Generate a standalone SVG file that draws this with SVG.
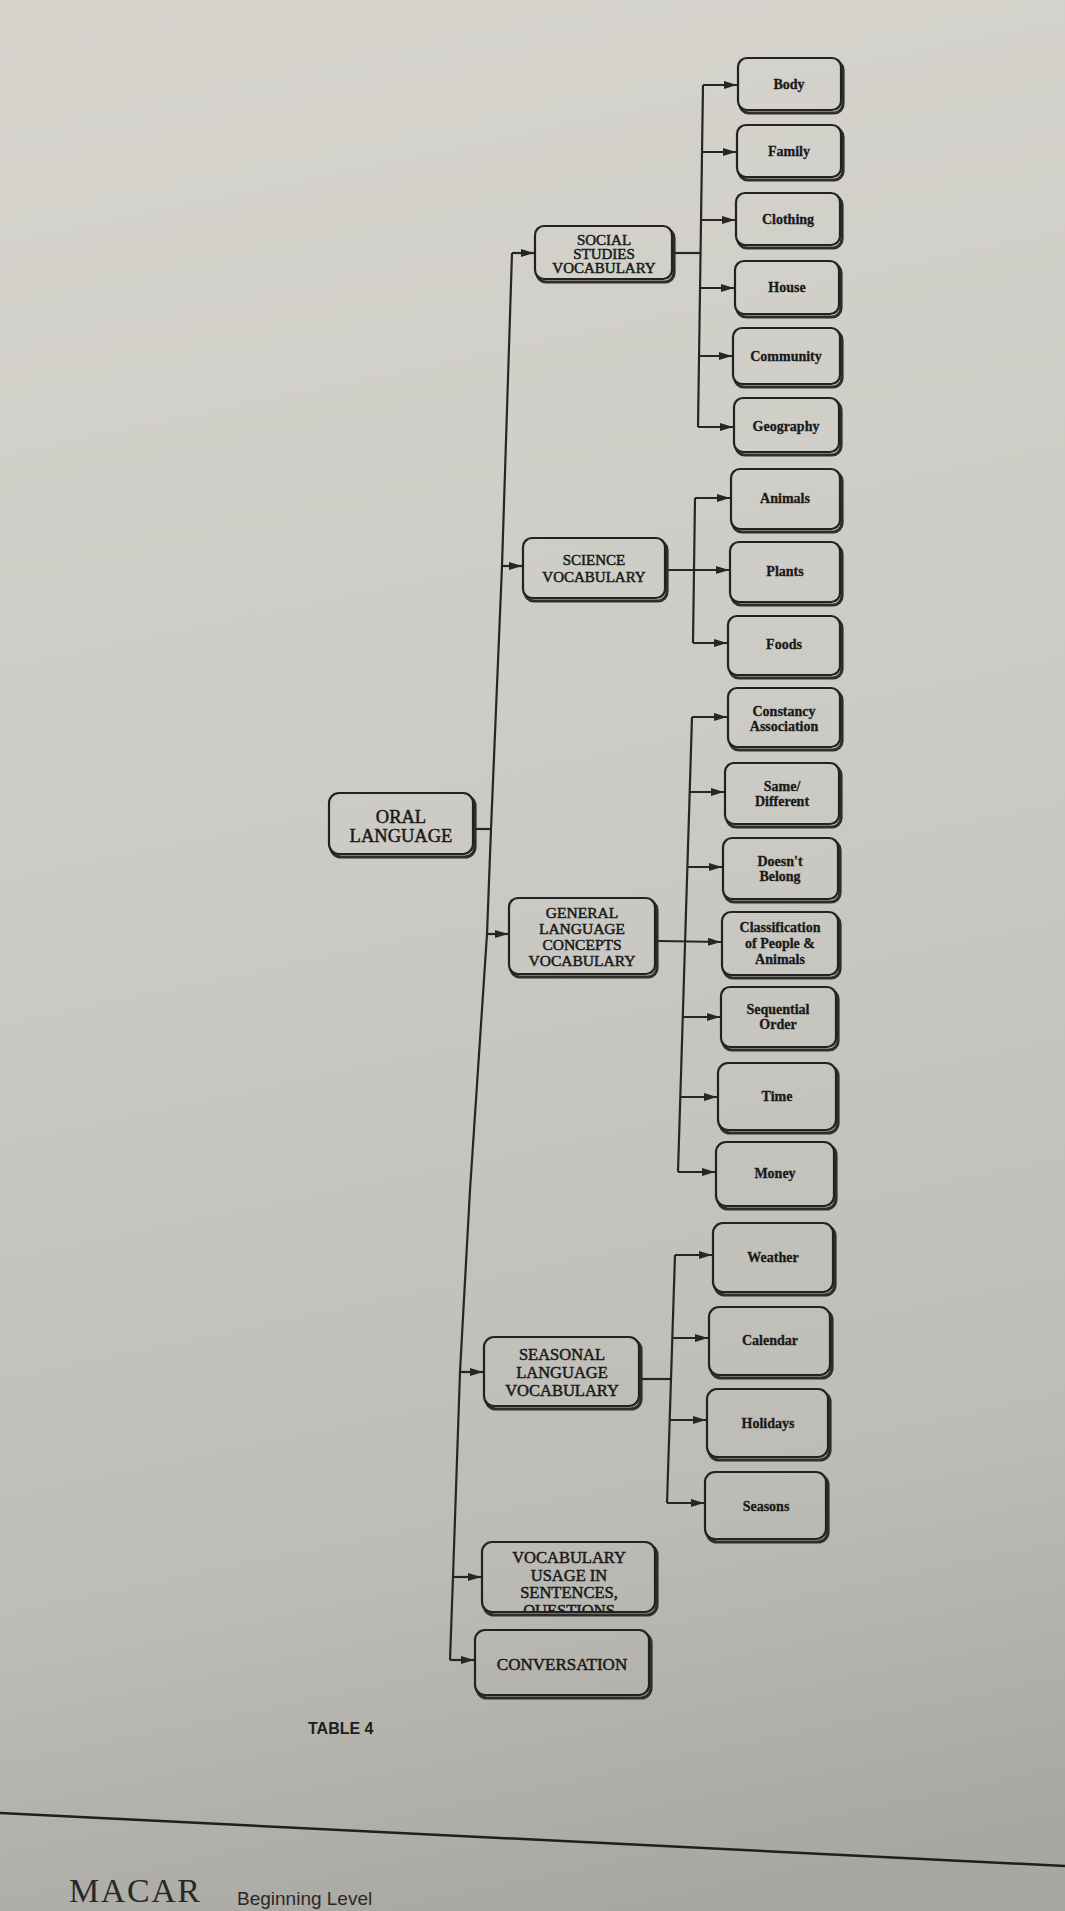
<svg xmlns="http://www.w3.org/2000/svg" width="1065" height="1911" viewBox="0 0 1065 1911">
<defs>
  <linearGradient id="bg" gradientUnits="userSpaceOnUse" x1="200" y1="0" x2="600" y2="1911">
    <stop offset="0" stop-color="#d6d4cd"/>
    <stop offset="0.45" stop-color="#cbcac4"/>
    <stop offset="0.8" stop-color="#bdbcb6"/>
    <stop offset="1" stop-color="#a9a7a2"/>
  </linearGradient>
  <marker id="arr" markerUnits="userSpaceOnUse" markerWidth="14" markerHeight="9" refX="14" refY="4" orient="auto">
    <path d="M0,0 L13,4 L0,8 z" fill="#262626"/>
  </marker>
  <clipPath id="vuclip"><rect x="482" y="1540" width="180" height="72"/></clipPath>
  <style>
    .sh{fill:none;stroke:#2e2e2e;stroke-width:3.2}
    .bx{fill:url(#bg);stroke:#222;stroke-width:2.2}
    .cn{fill:none;stroke:#262626;stroke-width:2.2}
    .ca{fill:none;stroke:#262626;stroke-width:2.2;marker-end:url(#arr)}
    .t1{font-family:"Liberation Serif","Times New Roman",serif;font-size:15px;fill:#1a1a1a;stroke:#1a1a1a;stroke-width:0.5;text-anchor:middle}
    .t2{font-family:"Liberation Serif","Times New Roman",serif;font-size:14px;font-weight:bold;fill:#1a1a1a;stroke:#1a1a1a;stroke-width:0.3;text-anchor:middle}
  </style>
</defs>
<rect x="0" y="0" width="1065" height="1911" fill="url(#bg)"/>

<g id="connectors">
  <polyline class="cn" points="512,253 502,566 491,829 487,934 470,1190 460,1372 453,1577 450,1660"/>
  <line class="cn" x1="475" y1="829" x2="491" y2="829"/>
  <line class="ca" x1="512" y1="253" x2="535" y2="253"/>
  <line class="ca" x1="502" y1="566" x2="523" y2="566"/>
  <line class="ca" x1="487" y1="934" x2="509" y2="934"/>
  <line class="ca" x1="460" y1="1372" x2="484" y2="1372"/>
  <line class="ca" x1="453" y1="1577" x2="482" y2="1577"/>
  <line class="ca" x1="450" y1="1660" x2="475" y2="1660"/>
  <!-- social studies -->
  <line class="cn" x1="703" y1="85" x2="698" y2="427"/>
  <line class="cn" x1="675" y1="253" x2="701" y2="253"/>
  <line class="ca" x1="703" y1="85" x2="738" y2="85"/>
  <line class="ca" x1="702" y1="152" x2="737" y2="152"/>
  <line class="ca" x1="701" y1="220" x2="736" y2="220"/>
  <line class="ca" x1="700" y1="288" x2="735" y2="288"/>
  <line class="ca" x1="699" y1="356" x2="733" y2="356"/>
  <line class="ca" x1="698" y1="427" x2="734" y2="427"/>
  <!-- science -->
  <line class="cn" x1="695" y1="498" x2="693" y2="643"/>
  <line class="ca" x1="668" y1="570" x2="730" y2="570"/>
  <line class="ca" x1="695" y1="498" x2="731" y2="498"/>
  <line class="ca" x1="693" y1="643" x2="728" y2="643"/>
  <!-- general language -->
  <line class="cn" x1="692" y1="717" x2="678" y2="1172"/>
  <line class="ca" x1="658" y1="941" x2="722" y2="942"/>
  <line class="ca" x1="692" y1="717" x2="728" y2="717"/>
  <line class="ca" x1="690" y1="792" x2="725" y2="792"/>
  <line class="ca" x1="687" y1="867" x2="723" y2="867"/>
  <line class="ca" x1="683" y1="1017" x2="721" y2="1017"/>
  <line class="ca" x1="680" y1="1097" x2="718" y2="1097"/>
  <line class="ca" x1="678" y1="1172" x2="716" y2="1172"/>
  <!-- seasonal -->
  <line class="cn" x1="675" y1="1255" x2="667" y2="1503"/>
  <line class="cn" x1="642" y1="1379" x2="671" y2="1379"/>
  <line class="ca" x1="675" y1="1255" x2="713" y2="1255"/>
  <line class="ca" x1="672" y1="1338" x2="709" y2="1338"/>
  <line class="ca" x1="670" y1="1420" x2="707" y2="1420"/>
  <line class="ca" x1="667" y1="1503" x2="705" y2="1503"/>
</g>

<g id="oral">
  <rect class="sh" x="331" y="796" width="144" height="61" rx="10"/>
  <rect class="bx" x="329" y="793" width="144" height="61" rx="10"/>
  <text class="t1" style="font-size:18.5px" x="401" y="823">ORAL</text>
  <text class="t1" style="font-size:18.5px" x="401" y="842">LANGUAGE</text>
</g>

<g id="social-studies">
  <rect class="sh" x="537" y="229" width="137" height="53" rx="9"/>
  <rect class="bx" x="535" y="226" width="137" height="53" rx="9"/>
  <text class="t1" x="604" y="245">SOCIAL</text>
  <text class="t1" x="604" y="259">STUDIES</text>
  <text class="t1" x="604" y="273">VOCABULARY</text>
</g>

<g id="science">
  <rect class="sh" x="525" y="541" width="142" height="60" rx="9"/>
  <rect class="bx" x="523" y="538" width="142" height="60" rx="9"/>
  <text class="t1" x="594" y="565">SCIENCE</text>
  <text class="t1" x="594" y="582">VOCABULARY</text>
</g>

<g id="general-language">
  <rect class="sh" x="511" y="901" width="146" height="76" rx="9"/>
  <rect class="bx" x="509" y="898" width="146" height="76" rx="9"/>
  <text class="t1" style="font-size:15.5px" x="582" y="918">GENERAL</text>
  <text class="t1" style="font-size:15.5px" x="582" y="934">LANGUAGE</text>
  <text class="t1" style="font-size:15.5px" x="582" y="950">CONCEPTS</text>
  <text class="t1" style="font-size:15.5px" x="582" y="966">VOCABULARY</text>
</g>

<g id="seasonal">
  <rect class="sh" x="486" y="1340" width="155" height="69" rx="10"/>
  <rect class="bx" x="484" y="1337" width="155" height="69" rx="10"/>
  <text class="t1" style="font-size:16.5px" x="562" y="1360">SEASONAL</text>
  <text class="t1" style="font-size:16.5px" x="562" y="1378">LANGUAGE</text>
  <text class="t1" style="font-size:16.5px" x="562" y="1396">VOCABULARY</text>
</g>

<g id="vocabulary-usage">
  <rect class="sh" x="484" y="1545" width="173" height="70" rx="10"/>
  <rect class="bx" x="482" y="1542" width="173" height="70" rx="10"/>
  <g clip-path="url(#vuclip)">
    <text class="t1" style="font-size:16.5px" x="569" y="1563">VOCABULARY</text>
    <text class="t1" style="font-size:16.5px" x="569" y="1581">USAGE IN</text>
    <text class="t1" style="font-size:16.5px" x="569" y="1598">SENTENCES,</text>
    <text class="t1" style="font-size:16.5px" x="569" y="1616">QUESTIONS</text>
  </g>
  <path d="M492,1612 L645,1612" stroke="#222" stroke-width="2.2" fill="none"/>
</g>

<g id="conversation">
  <rect class="sh" x="477" y="1633" width="174" height="65" rx="10"/>
  <rect class="bx" x="475" y="1630" width="174" height="65" rx="10"/>
  <text class="t1" style="font-size:17px" x="562" y="1670">CONVERSATION</text>
</g>

<g id="body"><rect class="sh" x="740" y="61" width="103" height="52" rx="9"/><rect class="bx" x="738" y="58" width="103" height="52" rx="9"/><text class="t2" x="789" y="89">Body</text></g>
<g id="family"><rect class="sh" x="739" y="128" width="104" height="52" rx="9"/><rect class="bx" x="737" y="125" width="104" height="52" rx="9"/><text class="t2" x="789" y="156">Family</text></g>
<g id="clothing"><rect class="sh" x="738" y="196" width="104" height="52" rx="9"/><rect class="bx" x="736" y="193" width="104" height="52" rx="9"/><text class="t2" x="788" y="224">Clothing</text></g>
<g id="house"><rect class="sh" x="737" y="264" width="104" height="53" rx="9"/><rect class="bx" x="735" y="261" width="104" height="53" rx="9"/><text class="t2" x="787" y="292">House</text></g>
<g id="community"><rect class="sh" x="735" y="331" width="107" height="56" rx="9"/><rect class="bx" x="733" y="328" width="107" height="56" rx="9"/><text class="t2" x="786" y="361">Community</text></g>
<g id="geography"><rect class="sh" x="736" y="401" width="105" height="54" rx="9"/><rect class="bx" x="734" y="398" width="105" height="54" rx="9"/><text class="t2" x="786" y="431">Geography</text></g>

<g id="animals"><rect class="sh" x="733" y="472" width="109" height="60" rx="9"/><rect class="bx" x="731" y="469" width="109" height="60" rx="9"/><text class="t2" x="785" y="503">Animals</text></g>
<g id="plants"><rect class="sh" x="732" y="545" width="110" height="60" rx="9"/><rect class="bx" x="730" y="542" width="110" height="60" rx="9"/><text class="t2" x="785" y="576">Plants</text></g>
<g id="foods"><rect class="sh" x="730" y="619" width="112" height="59" rx="9"/><rect class="bx" x="728" y="616" width="112" height="59" rx="9"/><text class="t2" x="784" y="649">Foods</text></g>

<g id="constancy"><rect class="sh" x="730" y="691" width="112" height="59" rx="9"/><rect class="bx" x="728" y="688" width="112" height="59" rx="9"/><text class="t2" x="784" y="716">Constancy</text><text class="t2" x="784" y="731">Association</text></g>
<g id="same-different"><rect class="sh" x="727" y="766" width="114" height="61" rx="9"/><rect class="bx" x="725" y="763" width="114" height="61" rx="9"/><text class="t2" x="782" y="791">Same/</text><text class="t2" x="782" y="806">Different</text></g>
<g id="doesnt-belong"><rect class="sh" x="725" y="841" width="115" height="61" rx="9"/><rect class="bx" x="723" y="838" width="115" height="61" rx="9"/><text class="t2" x="780" y="866">Doesn't</text><text class="t2" x="780" y="881">Belong</text></g>
<g id="classification"><rect class="sh" x="724" y="915" width="116" height="63" rx="9"/><rect class="bx" x="722" y="912" width="116" height="63" rx="9"/><text class="t2" x="780" y="932">Classification</text><text class="t2" x="780" y="948">of People &amp;</text><text class="t2" x="780" y="964">Animals</text></g>
<g id="sequential"><rect class="sh" x="723" y="990" width="115" height="60" rx="9"/><rect class="bx" x="721" y="987" width="115" height="60" rx="9"/><text class="t2" x="778" y="1014">Sequential</text><text class="t2" x="778" y="1029">Order</text></g>
<g id="time"><rect class="sh" x="720" y="1066" width="118" height="67" rx="10"/><rect class="bx" x="718" y="1063" width="118" height="67" rx="10"/><text class="t2" x="777" y="1101">Time</text></g>
<g id="money"><rect class="sh" x="718" y="1145" width="118" height="64" rx="10"/><rect class="bx" x="716" y="1142" width="118" height="64" rx="10"/><text class="t2" x="775" y="1178">Money</text></g>

<g id="weather"><rect class="sh" x="715" y="1226" width="120" height="69" rx="10"/><rect class="bx" x="713" y="1223" width="120" height="69" rx="10"/><text class="t2" x="773" y="1262">Weather</text></g>
<g id="calendar"><rect class="sh" x="711" y="1310" width="121" height="68" rx="10"/><rect class="bx" x="709" y="1307" width="121" height="68" rx="10"/><text class="t2" x="770" y="1345">Calendar</text></g>
<g id="holidays"><rect class="sh" x="709" y="1392" width="121" height="68" rx="10"/><rect class="bx" x="707" y="1389" width="121" height="68" rx="10"/><text class="t2" x="768" y="1428">Holidays</text></g>
<g id="seasons"><rect class="sh" x="707" y="1475" width="121" height="67" rx="10"/><rect class="bx" x="705" y="1472" width="121" height="67" rx="10"/><text class="t2" x="766" y="1511">Seasons</text></g>

<text x="308" y="1734" font-family="'Liberation Sans',Arial,sans-serif" font-size="16" font-weight="bold" fill="#1e1e1e">TABLE 4</text>
<line x1="0" y1="1813" x2="1065" y2="1866" stroke="#1f1f1f" stroke-width="2.5"/>
<text x="69" y="1902" font-family="'Liberation Serif','Times New Roman',serif" font-size="34" fill="#2a2826" textLength="131" lengthAdjust="spacing">MACAR</text>
<text x="237" y="1905" font-family="'Liberation Sans',Arial,sans-serif" font-size="19" fill="#2a2826">Beginning Level</text>
</svg>
